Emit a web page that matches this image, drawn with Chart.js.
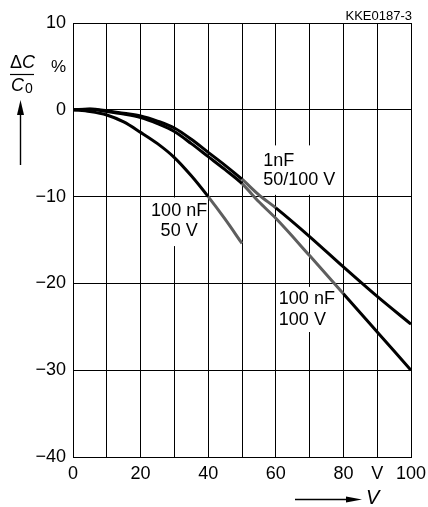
<!DOCTYPE html>
<html><head><meta charset="utf-8">
<script src="https://cdn.jsdelivr.net/npm/chart.js@4/dist/chart.umd.min.js"></script>
<style>html,body{margin:0;padding:0;background:#fff;overflow:hidden}canvas{display:block}</style>
</head><body>
<canvas id="c" width="428" height="507"></canvas>
<script>
// ---- data ----
const voltages      = [0, 5, 10, 15, 20, 25, 30, 35, 40, 45, 50, 55, 60, 70, 80, 90, 100];
const dc1nF         = [0, 0.1, -0.1, -0.4, -0.7, -1.3, -2.1, -3.4, -4.9, -6.4, -8.0, -9.8, -11.3, -14.6, -18.1, -21.5, -24.7];
const dc100nF100V   = [0, 0.05, -0.2, -0.5, -0.9, -1.6, -2.5, -3.9, -5.4, -6.9, -8.5, -10.6, -12.5, -16.8, -21.2, -25.6, -30.0];
const voltages50    = [0, 5, 10, 15, 20, 25, 30, 35, 40, 45, 50];
const dc100nF50V    = [0, -0.2, -0.6, -1.4, -2.6, -3.9, -5.5, -7.6, -10.0, -12.6, -15.4];
const xTickLabels   = ['0', '', '20', '', '40', '', '60', '', '80', 'V', '100'];
const yTickLabels   = ['\u221240', '\u221230', '\u221220', '\u221210', '0', '10'];
const seriesNames   = ['1nF 50/100 V', '100 nF 100 V', '100 nF 50 V'];

const FONT = "'Liberation Sans', Arial, sans-serif";
const GREY = '#5e5e5e';

function pts(xs, ys) { return xs.map((v, i) => ({x: v, y: ys[i]})); }

const greyRange = (a, b) => ctx => (ctx.p0.parsed.x >= a && ctx.p0.parsed.x < b) ? GREY : undefined;

const annotations = [
  {lines: ['1nF', '50/100 V'], v: 56.3, p: [-5.9, -8.1], align: 'left', box: [55.8, 79, -4.1, -9.8]},
  {lines: ['100 nF', '50 V'], v: 31.4, p: [-11.7, -14.0], align: 'center', box: [22.8, 39.4, -10.1, -15.7]},
  {lines: ['100 nF', '100 V'], v: 60.9, p: [-21.8, -24.2], align: 'left', box: [60.4, 77, -20.4, -25.6]}
];

const deco = {
  id: 'deco',
  beforeDatasetsDraw(chart) {
    const {ctx, scales: {x, y}} = chart;
    ctx.save();
    ctx.fillStyle = '#fff';
    annotations.forEach(a => {
      const x0 = x.getPixelForValue(a.box[0]), x1 = x.getPixelForValue(a.box[1]);
      const y0 = y.getPixelForValue(a.box[2]), y1 = y.getPixelForValue(a.box[3]);
      ctx.fillRect(x0, y0, x1 - x0, y1 - y0);
    });
    ctx.restore();
  },
  afterDatasetsDraw(chart) {
    const {ctx, chartArea: ca, scales: {x, y}} = chart;
    ctx.save();
    ctx.fillStyle = '#000';
    ctx.strokeStyle = '#000';
    // curve labels
    ctx.font = '18px ' + FONT;
    ctx.textBaseline = 'middle';
    annotations.forEach(a => {
      ctx.textAlign = a.align;
      a.lines.forEach((t, i) => ctx.fillText(t, x.getPixelForValue(a.v), y.getPixelForValue(a.p[i])));
    });
    // drawing number
    ctx.font = '13px ' + FONT;
    ctx.textAlign = 'right';
    ctx.textBaseline = 'alphabetic';
    ctx.fillText('KKE0187-3', ca.right + 1, 20);
    // percent unit
    ctx.font = '17px ' + FONT;
    ctx.textBaseline = 'middle';
    ctx.fillText('%', ca.left - 7, 67);
    // y axis quantity: ΔC / C0
    ctx.textAlign = 'left';
    ctx.font = '18px ' + FONT;
    ctx.fillText('\u0394', 10, 63);
    const dw = ctx.measureText('\u0394').width;
    ctx.font = 'italic 18px ' + FONT;
    ctx.fillText('C', 10 + dw, 63);
    ctx.lineWidth = 1.2;
    ctx.beginPath(); ctx.moveTo(10, 74.5); ctx.lineTo(34, 74.5); ctx.stroke();
    ctx.font = 'italic 18px ' + FONT;
    ctx.fillText('C', 11, 86);
    const cw = ctx.measureText('C').width;
    ctx.font = '14px ' + FONT;
    ctx.fillText('0', 11 + cw + 1, 89);
    // up arrow
    ctx.lineWidth = 1.4;
    ctx.beginPath(); ctx.moveTo(20.5, 165); ctx.lineTo(20.5, 110); ctx.stroke();
    ctx.beginPath(); ctx.moveTo(20.5, 100); ctx.lineTo(17, 115); ctx.lineTo(24, 115); ctx.closePath(); ctx.fill();
    // right arrow + V
    ctx.beginPath(); ctx.moveTo(295, 499.5); ctx.lineTo(352, 499.5); ctx.stroke();
    ctx.beginPath(); ctx.moveTo(362, 499.5); ctx.lineTo(346, 496.5); ctx.lineTo(346, 502.5); ctx.closePath(); ctx.fill();
    ctx.font = 'italic 20px ' + FONT;
    ctx.textBaseline = 'middle';
    ctx.fillText('V', 366, 498);
    ctx.restore();
  }
};

const common = {pointRadius: 0, borderWidth: 3, borderColor: '#000', fill: false, cubicInterpolationMode: 'monotone'};

new Chart(document.getElementById('c'), {
  type: 'line',
  data: {
    datasets: [
      Object.assign({label: seriesNames[0], data: pts(voltages, dc1nF), segment: {borderColor: greyRange(50, 60)}}, common),
      Object.assign({label: seriesNames[1], data: pts(voltages, dc100nF100V), segment: {borderColor: greyRange(50, 80)}}, common),
      Object.assign({label: seriesNames[2], data: pts(voltages50, dc100nF50V), segment: {borderColor: greyRange(40, 50)}}, common)
    ]
  },
  options: {
    responsive: false,
    animation: false,
    devicePixelRatio: 1,
    layout: {padding: {top: 23, right: 17, left: 0, bottom: 0}},
    plugins: {legend: {display: false}, tooltip: {enabled: false}},
    scales: {
      x: {
        type: 'linear', min: 0, max: 100,
        afterFit: s => { s.height = 50; s.paddingLeft = 0; s.paddingRight = 0; },
        ticks: {stepSize: 10, autoSkip: false, maxRotation: 0, padding: 6, color: '#000',
                font: {family: FONT, size: 18}, callback: (v, i) => xTickLabels[i]},
        grid: {color: '#000', lineWidth: 1, drawTicks: false},
        border: {color: '#000', width: 1}
      },
      y: {
        type: 'linear', min: -40, max: 10,
        afterFit: s => { s.width = 73; s.paddingTop = 0; s.paddingBottom = 0; },
        ticks: {stepSize: 10, padding: 7, color: '#000',
                font: {family: FONT, size: 18}, callback: (v, i) => yTickLabels[i]},
        grid: {color: '#000', lineWidth: 1, drawTicks: false},
        border: {color: '#000', width: 1}
      }
    }
  },
  plugins: [deco]
});
</script>
</body></html>
